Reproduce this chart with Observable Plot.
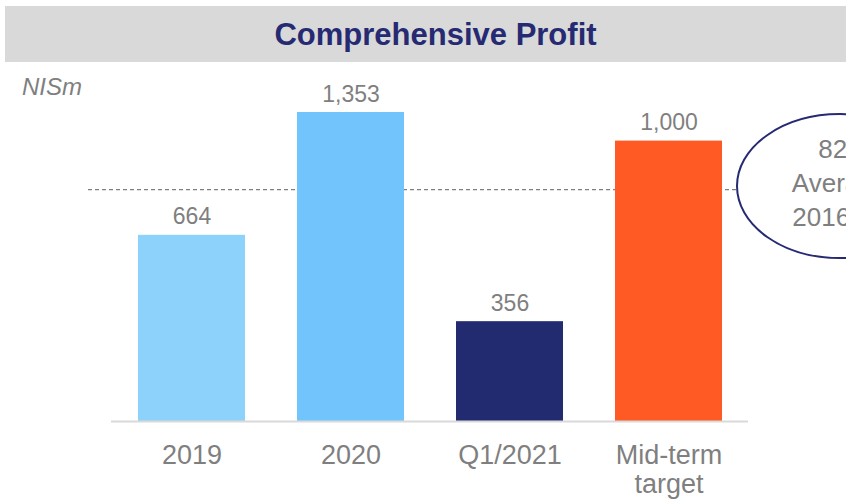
<!DOCTYPE html>
<html>
<head>
<meta charset="utf-8">
<script src="https://cdn.jsdelivr.net/npm/d3@7"></script>
<script src="https://cdn.jsdelivr.net/npm/@observablehq/plot@0.6"></script>
<style>
  html, body { margin: 0; padding: 0; background: #fff; overflow: hidden; }
  body { width: 846px; height: 502px; position: relative; font-family: "Liberation Sans", Arial, sans-serif; }
  #title { position: absolute; left: 5px; top: 6px; width: 861px; height: 56px; background: #d9d9d9;
           color: #262a72; font-weight: bold; font-size: 31px; line-height: 58px; text-align: center; }
  #unit { position: absolute; left: 22px; top: 73px; font-size: 24px; font-style: italic; color: #7f7f7f; }
  #chart { position: absolute; left: 0; top: 63px; }
</style>
</head>
<body>
<div id="title">Comprehensive Profit</div>
<div id="unit">NISm</div>
<div id="chart"></div>
<script>
const categories = ["2019", "2020", "Q1/2021", "Mid-term target"];
const tickLabels = ["2019", "2020", "Q1/2021", "Mid-term\ntarget"];
const values = [664, 1353, 356, 1000];
const colors = ["#8dd2fa", "#71c4fc", "#222a70", "#ff5a23"];
const averageValue = 827;
const averageLines = ["827", "Average", "2016-20"];
const yTop = 1102; // visible top of the value axis (2020 bar is truncated in the picture)

const data = categories.map((c, i) => ({category: c, value: values[i], color: colors[i]}));
const gray = "#7f7f7f";

const plot = Plot.plot({
  width: 846,
  height: 439,
  marginTop: 49,
  marginBottom: 81,
  marginLeft: 111,
  marginRight: 98,
  style: {fontFamily: '"Liberation Sans", Arial, sans-serif', overflow: "visible"},
  x: {domain: categories, paddingInner: 0.33, paddingOuter: 0.165, label: null},
  y: {domain: [0, yTop], clamp: true, axis: null},
  marks: [
    Plot.ruleY([averageValue], {stroke: "#7f7f7f", strokeWidth: 1.2, strokeDasharray: "4,3", insetLeft: -23, insetRight: 11}),
    Plot.barY(data, {x: "category", y: "value", fill: "color"}),
    Plot.ruleY([0], {stroke: "#d9d9d9", strokeWidth: 2}),
    Plot.text(data, {x: "category", y: "value", text: d => d3.format(",")(d.value), dy: -11, lineAnchor: "bottom", fill: gray, fontSize: 23}),
    Plot.axisX({tickSize: 0, tickPadding: 23, fontSize: 27, color: gray, tickFormat: (d, i) => tickLabels[categories.indexOf(d)], lineHeight: 1.04})
  ]
});
document.getElementById("chart").appendChild(plot);

// Annotation ellipse for the average, positioned on the y scale
const svg = d3.select(plot);
const yS = plot.scale("y");
const cy = yS.apply(averageValue) - 3;
const cx = 840;
const g = svg.append("g");
g.append("ellipse").attr("cx", cx).attr("cy", cy).attr("rx", 103).attr("ry", 72)
  .attr("fill", "#fff").attr("stroke", "#262a72").attr("stroke-width", 2);
averageLines.forEach((t, i) => {
  g.append("text").attr("x", cx).attr("y", cy + (i - 1) * 34 + 6)
    .attr("text-anchor", "middle").attr("fill", gray).attr("font-size", 26).text(t);
});
</script>
</body>
</html>
